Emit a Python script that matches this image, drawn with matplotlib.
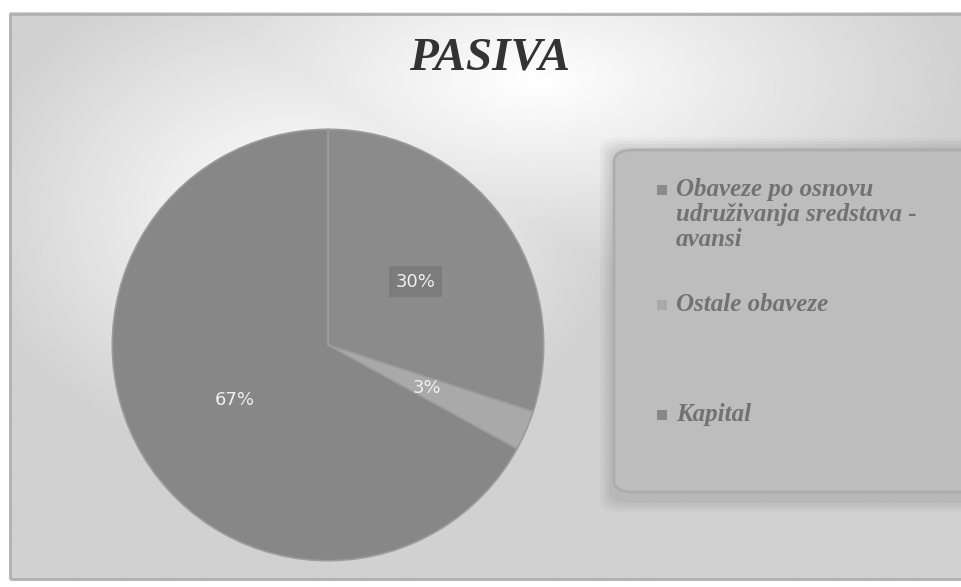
import numpy as np
import matplotlib.pyplot as plt
from matplotlib.patches import FancyBboxPatch, Rectangle

# PASIVA - structure of liabilities
labels = ['Obaveze po osnovu\nudruživanja sredstava -\navansi',
          'Ostale obaveze',
          'Kapital']
shares = [30, 3, 67]
colors = ['#8b8b8b', '#a9a9a9', '#878787']
legend_y = [0.676, 0.481, 0.293]   # figure-y of each legend entry's first line

W, H = 962, 587
fig = plt.figure(figsize=(W / 100, H / 100), dpi=100)
fig.patch.set_facecolor('white')

# background with soft light spot behind title and pie
bg = fig.add_axes([10 / W, 8 / H, 1 - 10 / W, 1 - 20 / H])
yy, xx = np.mgrid[0:1:300j, 0:1:500j]
d1 = np.hypot((xx - 0.55) / 0.45, (yy - 0.12) / 0.35)
d2 = np.hypot((xx - 0.30) / 0.35, (yy - 0.35) / 0.45)
light = np.clip(1.0 - np.minimum(d1, d2), 0, 1)
shade = 0.82 + 0.18 * light
bg.imshow(shade, cmap='gray', vmin=0, vmax=1, aspect='auto',
          extent=[0, 1, 1, 0], interpolation='bilinear')
bg.set_xlim(0, 1)
bg.set_ylim(1, 0)
bg.axis('off')
# frame lines of the chart area
fig.add_artist(Rectangle((10 / W, 8 / H), 1, 1 - 22 / H, transform=fig.transFigure,
                         fill=False, edgecolor='#b0b0b0', linewidth=2))

fig.text(0.509, 0.9, 'PASIVA', ha='center', va='center', fontsize=34,
         family='Liberation Serif', weight='bold', style='italic', color='#333333')

# pie
ax = fig.add_axes([108 / W, 1 - 565 / H, 440 / W, 440 / H])
wedges, texts, autotexts = ax.pie(
    shares, colors=colors, startangle=90, counterclock=False,
    autopct='%d%%', pctdistance=0.5,
    wedgeprops=dict(edgecolor='#9c9c9c', linewidth=1.2),
    textprops=dict(color='#f0f0f0', fontsize=13, family='DejaVu Sans'))
autotexts[0].set_bbox(dict(boxstyle='square,pad=0.35', facecolor='#7c7c7c', edgecolor='none'))
ax.set_xlim(-1.02, 1.02)
ax.set_ylim(-1.02, 1.02)
ax.set_aspect('equal')

# legend panel with blurred shadow
for i, a in enumerate([0.05, 0.05, 0.06, 0.07]):
    g = 12 - i * 3
    fig.add_artist(FancyBboxPatch((612 / W - g / W, 1 - (500 + g) / H), 400 / W, (350 + 2 * g) / H,
                                  boxstyle='round,pad=0,rounding_size=0.02',
                                  transform=fig.transFigure, facecolor='#666666',
                                  edgecolor='none', alpha=a))
fig.add_artist(FancyBboxPatch((614 / W, 1 - 492 / H), 400 / W, 342 / H,
                              boxstyle='round,pad=0,rounding_size=0.02',
                              transform=fig.transFigure, facecolor='#bdbdbd',
                              edgecolor='#adadad', linewidth=2))
for w, lab, y in zip(wedges, labels, legend_y):
    fig.add_artist(Rectangle((657 / W, y - 5 / H), 10 / W, 10 / H, transform=fig.transFigure,
                             facecolor=w.get_facecolor(), edgecolor='none'))
    fig.text(676 / W, y + 12 / H, lab, ha='left', va='top', fontsize=18,
             family='Liberation Serif', weight='bold', style='italic',
             color='#727272', linespacing=1.1)

fig.savefig('out.png', dpi=100)
